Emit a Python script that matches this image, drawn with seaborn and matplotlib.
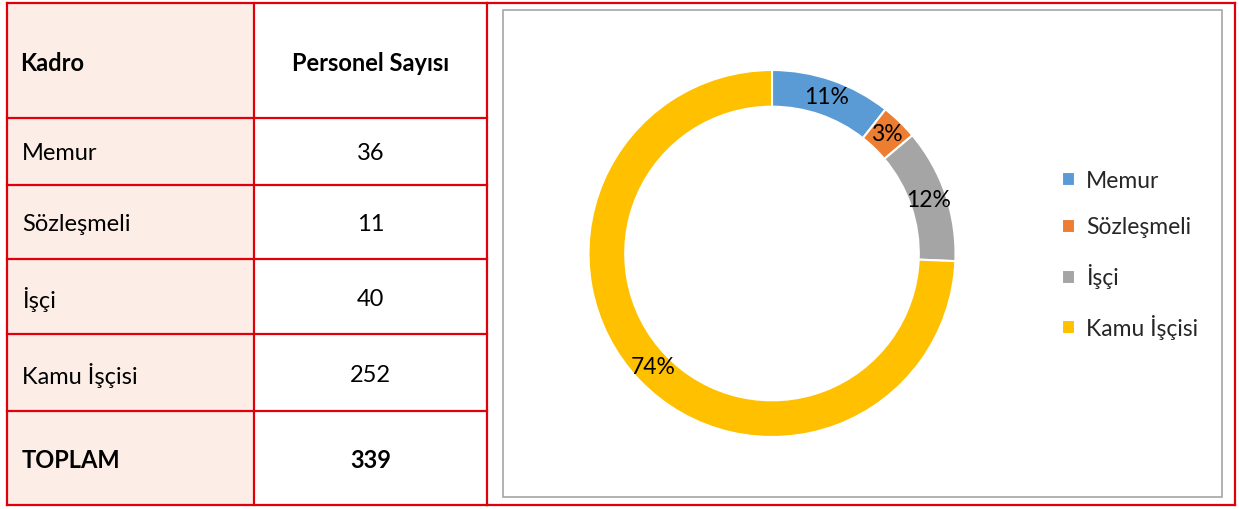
import matplotlib
matplotlib.use("Agg")
import matplotlib.pyplot as plt
from matplotlib.patches import Rectangle
import seaborn as sns

# ---- data ----
categories = ["Memur", "Sözleşmeli", "İşçi", "Kamu İşçisi"]
counts = [36, 11, 40, 252]
total_label = "TOPLAM"
header = ["Kadro", "Personel Sayısı"]
colors = ["#5B9BD5", "#ED7D31", "#A5A5A5", "#FFC000"]

sns.set_theme(style="white")
FONT = ["Lato", "DejaVu Sans"]
plt.rcParams["font.family"] = FONT

W, H = 1239, 509
fig = plt.figure(figsize=(W / 100, H / 100), dpi=100)
fig.patch.set_facecolor("white")

# page axes in pixel coordinates for the table frame
pg = fig.add_axes([0, 0, 1, 1])
pg.set_xlim(0, W)
pg.set_ylim(H, 0)
pg.axis("off")

RED = "#E0000B"
PINK = "#FCEEE7"
x0, x1, x2, x3 = 7, 254, 487, 1235
rows = [3, 118, 185, 259, 334, 411, 505]

# pink first column
pg.add_patch(Rectangle((x0, rows[0]), x1 - x0, rows[-1] - rows[0], facecolor=PINK, edgecolor="none", zorder=1))
# grid lines
lw = 1.6
for y in rows:
    pg.plot([x0, x2], [y, y], color=RED, lw=lw, zorder=3, solid_capstyle="projecting")
pg.plot([x2, x3], [rows[0], rows[0]], color=RED, lw=lw, zorder=3, solid_capstyle="projecting")
pg.plot([x2, x3], [rows[-1], rows[-1]], color=RED, lw=lw, zorder=3, solid_capstyle="projecting")
for x in (x0, x1, x2, x3):
    pg.plot([x, x], [rows[0], rows[-1]], color=RED, lw=lw, zorder=3, solid_capstyle="projecting")

# chart frame (gray)
pg.add_patch(Rectangle((503, 10), 1222 - 503, 497 - 10, facecolor="white", edgecolor="#A6A6A6", lw=1.2, zorder=2))

FS = 17
colc = (x1 + x2) / 2
def ymid(i):
    return (rows[i] + rows[i + 1]) / 2 + 2.5

pg.text(20, ymid(0), header[0], ha="left", va="center", fontsize=FS, fontweight="bold", color="black", zorder=4)
pg.text(colc, ymid(0), header[1], ha="center", va="center", fontsize=FS, fontweight="bold", color="black", zorder=4)
for i, (c, v) in enumerate(zip(categories, counts)):
    pg.text(22, ymid(i + 1), c, ha="left", va="center", fontsize=FS, color="black", zorder=4)
    pg.text(colc, ymid(i + 1), str(v), ha="center", va="center", fontsize=FS, color="black", zorder=4)
pg.text(22, ymid(5), total_label, ha="left", va="center", fontsize=FS, fontweight="bold", color="black", zorder=4)
pg.text(colc, ymid(5), str(sum(counts)), ha="center", va="center", fontsize=FS, fontweight="bold", color="black", zorder=4)

# donut
cx, cy, r = 772, 253.5, 183.5
ax = fig.add_axes([(cx - r) / W, (H - cy - r) / H, 2 * r / W, 2 * r / H])
ax.set_facecolor("none")
wedges, texts, autotexts = ax.pie(
    counts, colors=colors, startangle=90, counterclock=False, radius=1,
    autopct="%1.0f%%", pctdistance=0.9,
    wedgeprops=dict(width=0.2, edgecolor="white", linewidth=1.5),
    textprops=dict(fontsize=16.5, color="black", family=FONT),
)
ax.set_xlim(-1, 1)
ax.set_ylim(-1, 1)
ax.axis("off")

fig.legend(wedges, categories, loc="center left", bbox_to_anchor=(1053 / W, (H - 255) / H),
           frameon=False, fontsize=16.5, handlelength=0.55, handleheight=0.55,
           handletextpad=0.5, labelspacing=1.12, borderaxespad=0)

fig.savefig("out.png", dpi=100, facecolor="white")
